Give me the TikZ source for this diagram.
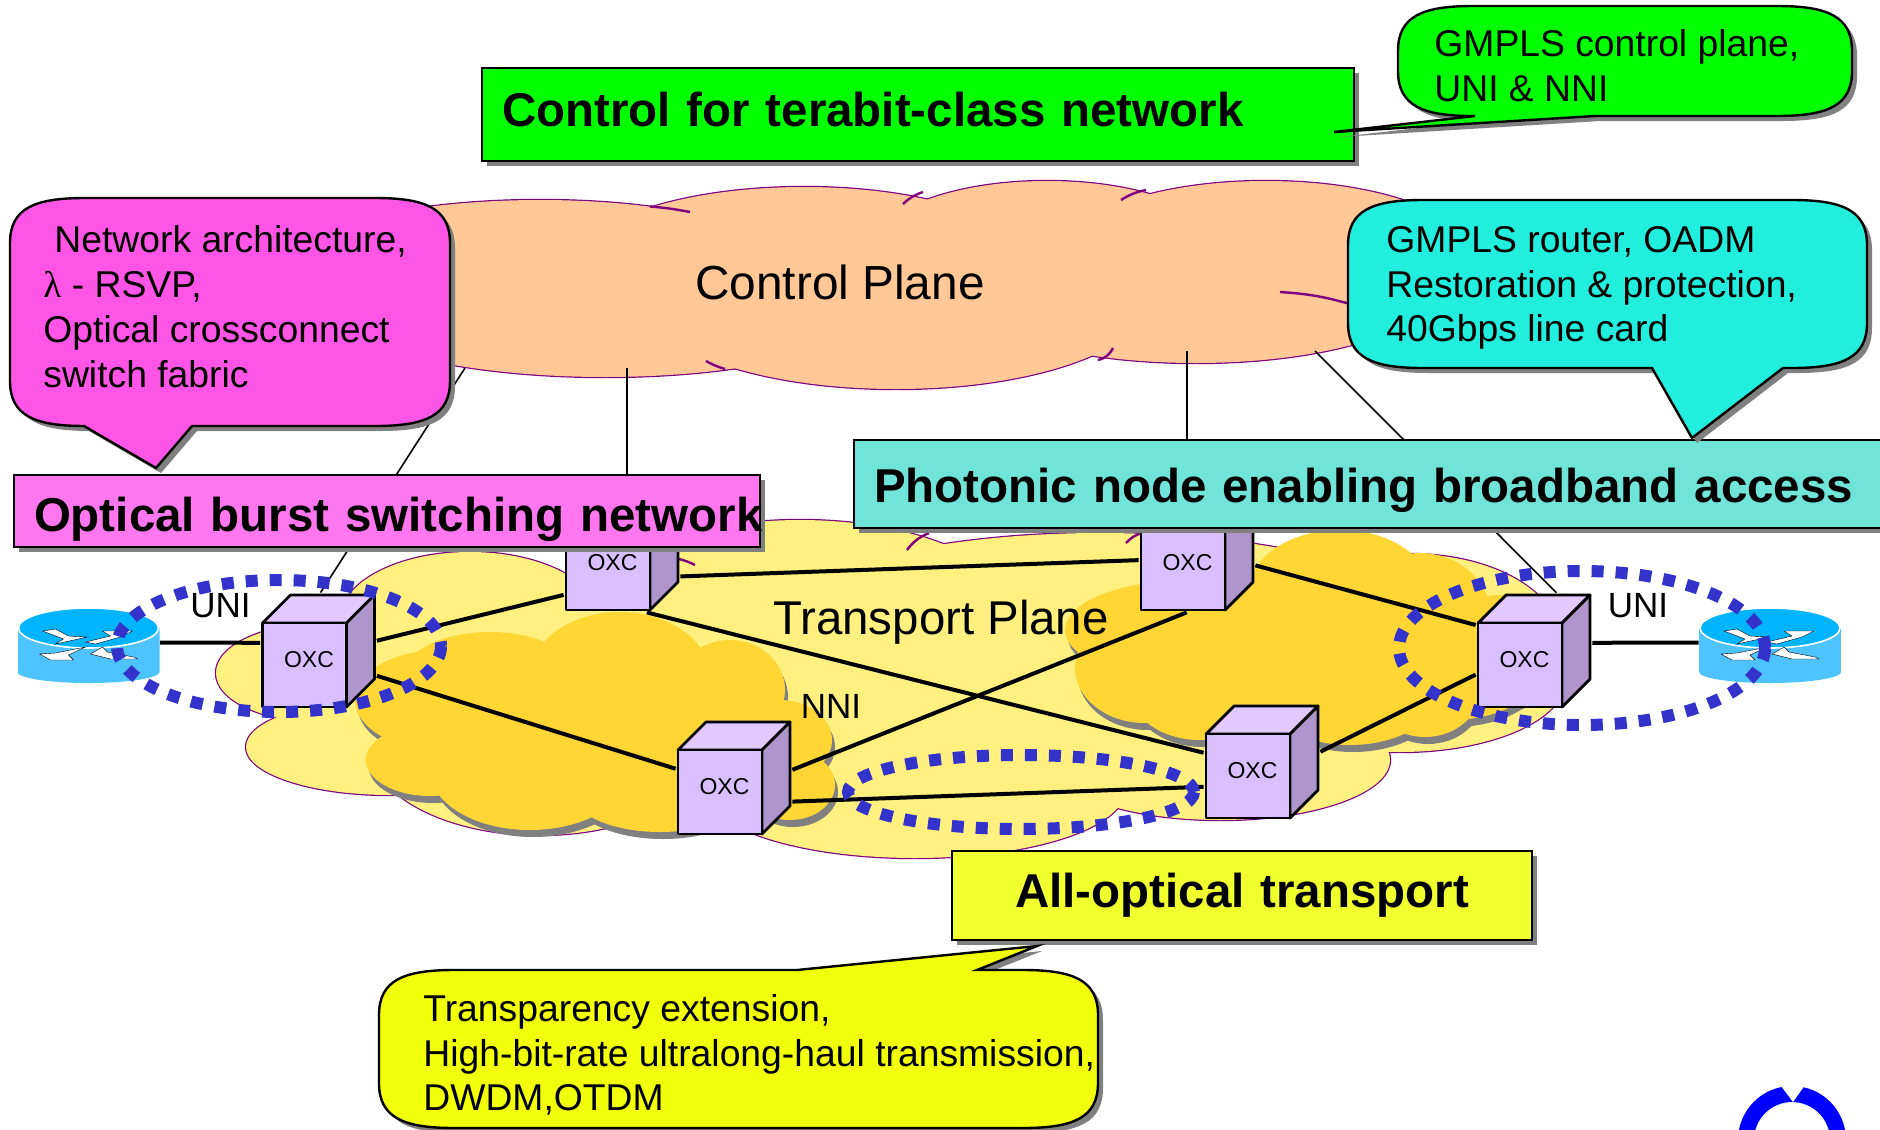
\documentclass[tikz,border=0pt]{standalone}
\usepackage{fontspec}
\setmainfont{Liberation Sans}
\newfontfamily\lambdafont{Liberation Serif}
\usetikzlibrary{calc,shadows}
\pgfdeclarelayer{background}
\pgfdeclarelayer{foreground}
\pgfsetlayers{background,main,foreground}
\definecolor{cloudline}{HTML}{800080}
\definecolor{peach}{HTML}{FFC896}
\definecolor{paleyellow}{HTML}{FFF07F}
\definecolor{darkyellow}{HTML}{FFD633}
\definecolor{oxcfront}{HTML}{D8BFFF}
\definecolor{oxctop}{HTML}{E1C9FF}
\definecolor{oxcside}{HTML}{AE96CC}
\definecolor{ringblue}{HTML}{3333CC}
\definecolor{routertop}{HTML}{00B4FF}
\definecolor{routerside}{HTML}{4DC3FF}
\newcommand{\oxcface}{%
  \begin{scope}[shift={(path picture bounding box.center)},draw=black,line width=1.4pt,line join=round]
    \filldraw [fill=oxctop] (-56,-28) -- (-28,-56) -- (56,-56) -- (28,-28) -- cycle;
    \filldraw [fill=oxcside] (28,-28) -- (56,-56) -- (56,28) -- (28,56) -- cycle;
    \filldraw [fill=oxcfront] (-56,-28) rectangle (28,56);
  \end{scope}}
\newcommand{\routerface}{%
  \begin{scope}[shift={(path picture bounding box.center)}]
    \fill [routerside] (-71,-17) rectangle (71,27);
    \fill [routerside] (0,27) ellipse [x radius=71, y radius=11];
    \filldraw [fill=routertop,draw=white,line width=0.8pt] (0,-17) ellipse [x radius=70, y radius=20];
    \begin{scope}[shift={(0,-17)},fill=white,draw=black,line width=0.2pt]
      \filldraw (-46,-14) -- (-33,-16) -- (-20,-9) -- (-1,-8) -- (-33,-1) -- (-25,-6) -- cycle;
      \filldraw (-3,-3) -- (22,-9) -- (14,-14) -- (44,-14) -- (32,-8) -- (7,-1) -- cycle;
      \filldraw (-49,9) -- (-33,8) -- (-3,2) -- (-20,10) -- (-15,15) -- (-38,15) -- cycle;
      \filldraw (2,9) -- (14,2) -- (19,7) -- (45,12) -- (49,14) -- (22,14) -- cycle;
    \end{scope}
  \end{scope}}
\newcommand{\bubble}[9]{%
  \draw [callout,fill=#9] (#1,#2+45) .. controls (#1,#2+10) and (#1+25,#2) .. (#1+75,#2)
    -- (#3-75,#2) .. controls (#3-25,#2) and (#3,#2+10) .. (#3,#2+45)
    -- (#3,#4-45) .. controls (#3,#4-10) and (#3-25,#4) .. (#3-75,#4)
    -- (#8,#4) -- (#6,#7) -- (#5,#4)
    -- (#1+75,#4) .. controls (#1+25,#4) and (#1,#4-10) .. (#1,#4-45) -- cycle;}
\tikzstyle{oxc}=[minimum size=58pt,inner sep=0pt,path picture={\oxcface},
    label={[xshift=-4.75pt,yshift=-4.5pt,font=\fontsize{11.5}{14}\selectfont]center:OXC}]
\tikzstyle{router}=[minimum width=71pt,minimum height=38pt,inner sep=0pt,path picture={\routerface}]
\tikzstyle{link}=[line width=2pt]
\tikzstyle{drop}=[line width=0.8pt]
\tikzstyle{edge}=[cloudline,line width=1.2pt]
\tikzstyle{ring}=[draw=ringblue,line width=6pt,dash pattern=on 6pt off 6pt]
\tikzstyle{callout}=[draw=black,line width=1.2pt,drop shadow={shadow xshift=2.5pt,shadow yshift=-2.5pt,fill=gray,opacity=1}]
\tikzstyle{calloutlabel}=[font=\fontsize{18.65}{22.4}\selectfont,align=left,anchor=west,inner sep=0pt]
\tikzstyle{headline}=[draw=black,line width=1.2pt,inner xsep=10pt,inner ysep=6pt,font=\bfseries\fontsize{23.75}{28}\selectfont,
    align=left,text height=17pt,text depth=5pt,drop shadow={shadow xshift=2.5pt,shadow yshift=-2.5pt,fill=gray,opacity=1}]
\tikzstyle{tag}=[font=\fontsize{17.5}{20}\selectfont,inner sep=0pt]
\def\controlcloud{540/280/275/80,804/267/229/80,1047/251/176/70,1266/261/211/80,1196/283/246/80,896/299/252/90,605/297/287/80}
\def\transportcloud{320/673/104/49,470/620/130/68,390/747/144/48,540/745/170/90,915/790/210/68,1220/760/170/60,1410/640/150/86,1400/680/165/72,800/620/220/100,1100/640/350/107,900/720/220/60}
\def\darkleft{440/700/85/50,490/680/90/48,430/760/64/36,530/770/100/60,620/677/90/65,730/690/55/50,780/740/52/40,790/785/45/35,660/790/90/42,600/730/170/70}
\def\darkright{1145/668/70/55,1200/690/70/50,1350/690/90/55,1450/670/90/50,1425/690/55/47,1340/590/90/60,1190/630/125/50,1420/620/72/67,1500/650/60/55,1300/650/150/80}

\begin{document}
\begin{tikzpicture}[x=0.5pt,y=-0.5pt]
	\useasboundingbox (0,0) rectangle (1880,1130);

	% OXC nodes and the two routers
	\node (oxcA) [oxc] at (318.5,651) {};
	\node (oxcB) [oxc,right of=oxcA,node distance=151.75pt,yshift=48.5pt] {};
	\node (oxcC) [oxc,right of=oxcA,node distance=207.75pt,yshift=-63.5pt] {};
	\node (oxcD) [oxc,right of=oxcB,node distance=287.5pt] {};
	\node (oxcE) [oxc,right of=oxcC,node distance=264pt,yshift=8pt] {};
	\node (oxcF) [oxc,right of=oxcD,node distance=168.5pt,yshift=-48.5pt] {};
	\node (routerL) [router,left of=oxcA,node distance=115pt,yshift=3pt] {};
	\node (routerR) [router,right of=oxcF,node distance=118pt,yshift=3pt] {};

	% Text on the two planes
	\node (uniL) [tag,left of=oxcA,node distance=49pt,yshift=22.5pt] {UNI};
	\node (uniR) [tag,right of=oxcF,node distance=52pt,yshift=22.5pt] {UNI};
	\node (nni) [tag,right of=oxcC,node distance=48.5pt,yshift=36pt] {NNI};
	\node (transport) [font=\fontsize{23.7}{26}\selectfont,inner sep=0pt] at (941,622) {Transport Plane};

	% Free ends of the thin lines, on the control plane
	\coordinate (ctrlA) at (465,368);
	\coordinate (ctrlB) at (627,368);
	\coordinate (ctrlC) at (1187,351);
	\coordinate (ctrlD) at (1315,351);

	\begin{pgfonlayer}{background}
		% Transport plane
		\foreach \cx/\cy/\rx/\ry in \transportcloud
			\draw [edge] (\cx,\cy) ellipse [x radius=\rx, y radius=\ry];
		\foreach \cx/\cy/\rx/\ry in \transportcloud
			\fill [paleyellow] (\cx,\cy) ellipse [x radius=\rx, y radius=\ry];
		\draw [edge] (679,559) to[bend left=6] (695,565);
		\draw [edge] (907,550) to[bend left=15] (929,533);
		\draw [edge] (1126,543) to[bend left=15] (1142,533);
		\foreach \cx/\cy/\rx/\ry in \darkleft
			\fill [gray] (\cx+3,\cy+7) ellipse [x radius=\rx, y radius=\ry];
		\foreach \cx/\cy/\rx/\ry in \darkright
			\fill [gray] (\cx+3,\cy+7) ellipse [x radius=\rx, y radius=\ry];
		\foreach \cx/\cy/\rx/\ry in \darkleft
			\fill [darkyellow] (\cx,\cy) ellipse [x radius=\rx, y radius=\ry];
		\foreach \cx/\cy/\rx/\ry in \darkright
			\fill [darkyellow] (\cx,\cy) ellipse [x radius=\rx, y radius=\ry];
		% Links between the nodes
		\draw [link] (routerL.2) -- (oxcA.172);
		\draw [link] (oxcA.10) -- (oxcB.215);
		\draw [link] (oxcA.-23) -- (oxcC.171);
		\draw [link] (oxcB.-21) -- (oxcD.186);
		\draw [link] (oxcB.-67) -- (oxcE.171);
		\draw [link] (oxcC.8) -- (oxcD.260);
		\draw [link] (oxcC.-22) -- (oxcE.203);
		\draw [link] (oxcD.-11) -- (oxcF.156);
		\draw [link] (oxcE.10) -- (oxcF.202);
		\draw [link] (oxcF.8) -- (routerR.178);
		% Control plane
		\foreach \cx/\cy/\rx/\ry in \controlcloud
			\draw [edge] (\cx,\cy) ellipse [x radius=\rx, y radius=\ry];
		\foreach \cx/\cy/\rx/\ry in \controlcloud
			\fill [peach] (\cx,\cy) ellipse [x radius=\rx, y radius=\ry];
		\fill [peach] (840,285) ellipse [x radius=500, y radius=70];
		\draw [edge] (650,206.5) to[bend left=3] (690,212);
		\draw [edge] (903,204) to[bend left=12] (923,192);
		\draw [edge] (1121,200) to[bend left=10] (1146,190);
		\draw [edge] (706,361) to[bend right=6] (725,369);
		\draw [edge] (1113,348) to[bend left=25] (1098,360);
		\draw [edge] (1280,292) to[bend left=6] (1350,304);
		% Thin lines down from the control plane
		\draw [drop] (ctrlA) -- (oxcA.88);
		\draw [drop] (ctrlB) -- (ctrlB |- oxcB.north);
		\draw [drop] (ctrlC) -- (ctrlC |- oxcD.north);
		\draw [drop] (ctrlD) -- (oxcF.69);
	\end{pgfonlayer}

	\begin{pgfonlayer}{foreground}
		% Dotted rings
		\draw [ring] (279,646) ellipse [x radius=162, y radius=66];
		\draw [ring] (1582,648) ellipse [x radius=183, y radius=77];
		\draw [ring] (1021,792) ellipse [x radius=173, y radius=37];

		\node (control) [font=\fontsize{23.9}{28}\selectfont,inner sep=0pt] at (840,282) {Control Plane};

		% Headlines
		\node (terabit) [headline,fill=green,text width=416pt,minimum height=46.5pt] at (918,114.5) {Control for terabit-class network};
		\node (burst) [headline,fill={rgb,255:red,255;green,119;blue,238},text width=353pt,minimum height=36pt,text height=21pt,text depth=1pt] at (387,511) {\mbox{Optical burst switching network}};
		\node (photonic) [headline,fill={rgb,255:red,112;green,228;blue,216},text width=500pt,minimum height=44pt,text height=20pt,text depth=2pt] at (1374,484) {Photonic node enabling broadband access};
		\node (allopt) [headline,fill={rgb,255:red,240;green,255;blue,46},align=center,text width=270pt,minimum height=44.5pt] at (1242,895.5) {All-optical transport};

		% Callouts
		\bubble{1398}{6}{1852}{116}{1475}{1334}{132}{1595}{green}
		\bubble{10}{198}{450}{426}{84}{156}{468}{192}{{rgb,255:red,255;green,85;blue,230}}
		\bubble{1348}{200}{1867}{368}{1652}{1692}{438}{1783}{{rgb,255:red,34;green,238;blue,221}}
		\draw [callout,fill={rgb,255:red,242;green,255;blue,10}] (379,1015) .. controls (379,980) and (404,970) .. (454,970)
			-- (797,970) -- (1037,946) -- (977,970)
			-- (1023,970) .. controls (1073,970) and (1098,980) .. (1098,1015)
			-- (1098,1083) .. controls (1098,1118) and (1073,1128) .. (1023,1128)
			-- (454,1128) .. controls (404,1128) and (379,1118) .. (379,1083) -- cycle;

		\node (gmpls) [calloutlabel] at (1434,65.5) {GMPLS control plane,\\UNI \& NNI};
		\node (arch) [calloutlabel] at (43,306.5) {\hspace*{5.5pt}Network architecture,\\{\lambdafont λ} - RSVP,\\Optical crossconnect\\switch fabric};
		\node (router) [calloutlabel] at (1386,288) {GMPLS router, OADM\\Restoration \& protection,\\40Gbps line card};
		\node (transparency) [calloutlabel] at (423,1055) {Transparency extension,\\High-bit-rate ultralong-haul transmission,\\DWDM,OTDM};

		% Mark in the corner
		\draw [blue,line width=8pt] (1792,1140) circle [radius=46];
		\fill [white] (1775,1078) -- (1810,1078) -- (1793,1102) -- cycle;
	\end{pgfonlayer}
\end{tikzpicture}
\end{document}
